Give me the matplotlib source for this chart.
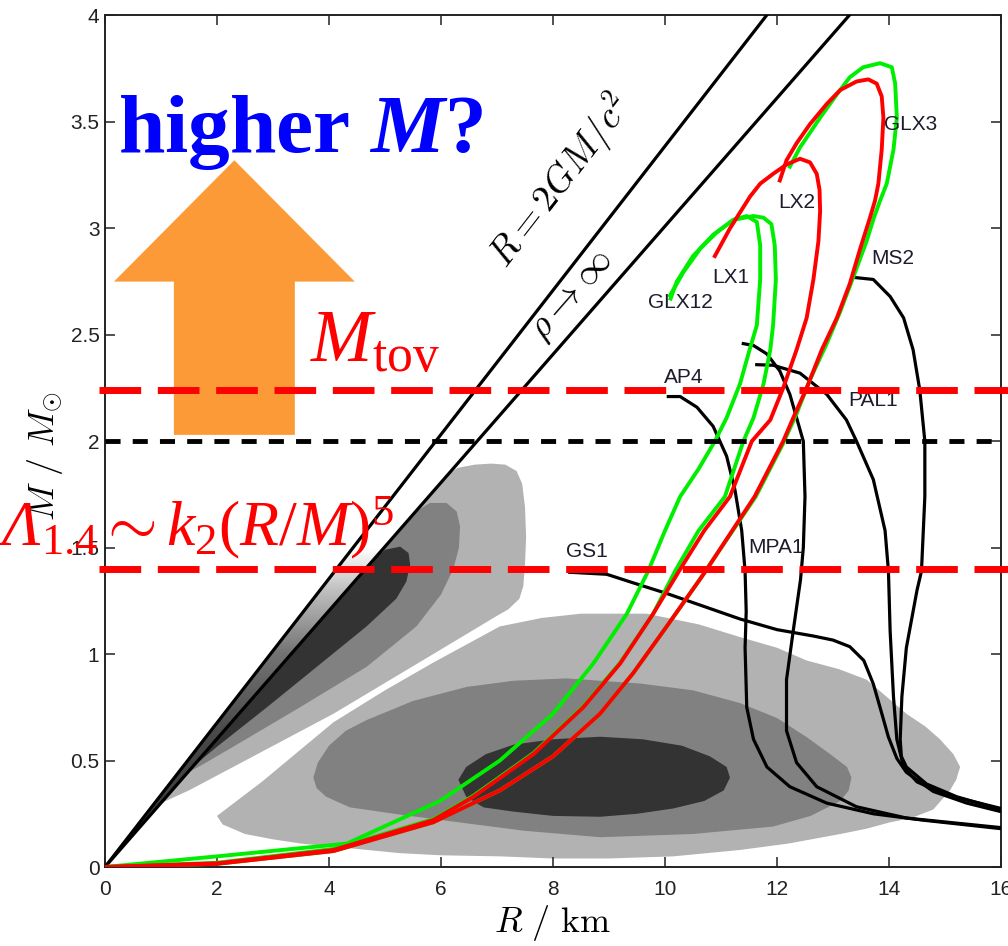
import numpy as np
import matplotlib
matplotlib.use("Agg")
import matplotlib.pyplot as plt
from matplotlib.patches import Polygon, FancyArrow

plt.rcParams['mathtext.fontset'] = 'custom'
plt.rcParams['mathtext.rm'] = 'Liberation Serif'
plt.rcParams['mathtext.it'] = 'Liberation Serif:italic'
plt.rcParams['mathtext.sf'] = 'Liberation Serif:italic'
plt.rcParams['mathtext.bf'] = 'Liberation Serif:bold'
plt.rcParams['mathtext.bfit'] = 'Liberation Serif:italic:bold'

W, H = 1008, 946
SANS = ['Liberation Sans Narrow', 'Liberation Sans', 'DejaVu Sans']

# ---------------- data ----------------
# limiting lines R = k * M  (km per solar mass)
limit_slopes = [2.953, 3.322]          # R = 2GM/c^2 , rho -> infinity
limit_M = [0.0, 5.5]

tov_mass = 2.24
lambda_mass = 1.40
obs_mass = 2.0

x_ticks = [0, 2, 4, 6, 8, 10, 12, 14, 16]
x_tick_labels = ['0', '2', '4', '6', '8', '10', '12', '14', '16']
y_ticks = [0, 0.5, 1, 1.5, 2, 2.5, 3, 3.5, 4]
y_tick_labels = ['0', '0.5', '1', '1.5', '2', '2.5', '3', '3.5', '4']

# probability contours (outlines)
low_light_R = [2.0, 2.8, 4.08, 5.0, 5.86, 7.05, 7.8, 8.5, 9.67, 10.6, 11.34, 12.0, 12.53, 13.1, 13.6,
               14.0, 14.31, 14.65, 14.91, 15.15, 15.27, 15.2, 15.09, 14.79, 14.4, 14.02, 13.6, 13.13,
               12.2, 11.34, 10.15, 9.0, 8.0, 7.05, 6.0, 5.27, 4.3, 3.5, 3.0, 2.5, 2.1]
low_light_M = [0.24, 0.40, 0.68, 0.83, 0.96, 1.13, 1.17, 1.19, 1.19, 1.14, 1.08, 1.03, 0.97, 0.93, 0.88,
               0.79, 0.72, 0.66, 0.60, 0.53, 0.47, 0.41, 0.36, 0.27, 0.23, 0.21, 0.18, 0.155,
               0.11, 0.08, 0.05, 0.04, 0.04, 0.05, 0.055, 0.065, 0.09, 0.11, 0.13, 0.155, 0.20]
low_mid_R = [3.72, 3.8, 4.0, 4.3, 4.67, 5.5, 6.46, 7.3, 8.24, 9.55, 10.5, 11.34, 12.0, 12.53, 12.95,
             13.25, 13.33, 13.28, 13.13, 12.6, 11.93, 10.5, 8.84, 7.5, 6.46, 5.3, 4.375, 3.95, 3.78]
low_mid_M = [0.42, 0.49, 0.57, 0.64, 0.69, 0.78, 0.846, 0.875, 0.886, 0.862, 0.83, 0.77, 0.70, 0.61, 0.53,
             0.47, 0.42, 0.36, 0.31, 0.24, 0.19, 0.155, 0.14, 0.17, 0.205, 0.245, 0.28, 0.33, 0.37]
low_dark_R = [6.31, 6.45, 6.8, 7.3, 8.0, 8.84, 9.6, 10.3, 10.8, 11.1, 11.16, 11.05, 10.7, 10.15, 9.5,
              8.84, 8.0, 7.3, 6.76, 6.45]
low_dark_M = [0.41, 0.47, 0.53, 0.575, 0.60, 0.612, 0.60, 0.57, 0.52, 0.47, 0.42, 0.36, 0.31, 0.275, 0.25,
              0.236, 0.24, 0.26, 0.28, 0.33]

up_light_R = [1.0, 6.1, 6.3, 6.6, 6.9, 7.15, 7.35, 7.45, 7.5, 7.52, 7.5, 7.47, 7.4, 7.2, 7.0, 5.86,
              4.08, 2.29, 1.5]
up_light_M = [0.30, 1.84, 1.875, 1.89, 1.895, 1.89, 1.86, 1.80, 1.69, 1.55, 1.42, 1.32, 1.26, 1.21, 1.18,
              1.0, 0.72, 0.47, 0.36]
up_mid_R = [1.46, 5.55, 5.8, 6.1, 6.28, 6.34, 6.32, 6.22, 6.0, 5.56, 4.67, 3.48, 2.29, 1.8]
up_mid_M = [0.44, 1.67, 1.71, 1.71, 1.67, 1.60, 1.50, 1.40, 1.28, 1.13, 0.94, 0.75, 0.565, 0.49]
up_dark_R = [1.52, 4.8, 5.0, 5.27, 5.42, 5.45, 5.38, 5.2, 4.67, 3.78, 2.89, 2.0, 1.7]
up_dark_M = [0.458, 1.445, 1.49, 1.505, 1.475, 1.42, 1.34, 1.26, 1.13, 0.94, 0.75, 0.565, 0.50]

# shading between the limiting lines: grey level at a few masses
strip_top = 1.5
strip_shade_M = [0.0, 0.6, 1.0, 1.3, 1.5]
strip_shade_grey = [0.22, 0.28, 0.45, 0.75, 1.0]

# mass-radius curves
gs1_R = [8.27, 8.96, 9.43, 10.03, 10.74, 11.34, 12.0, 12.65, 13.0, 13.3, 13.55, 13.72, 13.84, 13.99,
         14.14, 14.31, 14.79, 15.39, 16.0]
gs1_M = [1.385, 1.375, 1.335, 1.285, 1.22, 1.165, 1.115, 1.085, 1.066, 1.035, 0.97, 0.86, 0.75, 0.61,
         0.51, 0.445, 0.355, 0.30, 0.26]
ms2_R = [13.36, 13.72, 14.02, 14.26, 14.43, 14.55, 14.64, 14.64, 14.58, 14.5, 14.31, 14.23, 14.2, 14.22,
         14.31, 14.67, 15.21, 16.0]
ms2_M = [2.77, 2.76, 2.68, 2.58, 2.43, 2.24, 2.0, 1.74, 1.39, 1.30, 1.03, 0.80, 0.60, 0.52,
         0.47, 0.39, 0.33, 0.27]
pal1_R = [11.61, 11.93, 12.41, 12.89, 13.24, 13.42, 13.72, 13.93, 13.99, 14.02, 14.08, 14.14, 14.26,
          14.5, 15.0, 16.0]
pal1_M = [2.36, 2.357, 2.32, 2.22, 2.10, 2.0, 1.82, 1.58, 1.39, 1.11, 0.80, 0.60, 0.47,
          0.40, 0.34, 0.275]
ap4_R = [10.03, 10.27, 10.57, 10.86, 11.1, 11.25, 11.37, 11.43, 11.45, 11.43, 11.46, 11.58, 11.82,
         12.23, 12.89, 13.72, 14.61, 16.0]
ap4_M = [2.21, 2.21, 2.16, 2.07, 1.93, 1.77, 1.58, 1.39, 1.2, 1.03, 0.75, 0.60, 0.47,
         0.377, 0.30, 0.25, 0.22, 0.18]
mpa1_R = [11.37, 11.58, 11.82, 12.05, 12.23, 12.35, 12.47, 12.5, 12.47, 12.42, 12.29, 12.17, 12.17,
          12.35, 12.71, 13.42, 14.31, 16.0]
mpa1_M = [2.46, 2.45, 2.41, 2.33, 2.22, 2.11, 2.0, 1.74, 1.50, 1.35, 1.11, 0.88, 0.64,
          0.49, 0.377, 0.283, 0.23, 0.185]

greenA_R = [0, 2.0, 4.32, 5.98, 7.05, 8.0, 8.72, 9.32, 9.7, 10.0, 10.27, 10.6, 10.89, 11.1, 11.34, 11.5,
            11.64, 11.7, 11.7, 11.64, 11.46, 11.22, 10.92, 10.63, 10.33, 10.09]
greenA_M = [0, 0.05, 0.11, 0.31, 0.50, 0.72, 0.956, 1.19, 1.39, 1.58, 1.74, 1.87, 2.0, 2.11, 2.27, 2.42,
            2.545, 2.76, 2.92, 3.03, 3.058, 3.04, 2.98, 2.905, 2.795, 2.685]
greenB_R = [0, 2.0, 4.08, 5.86, 6.58, 7.65, 8.54, 9.2, 9.79, 10.18, 10.6, 11.07, 11.4, 11.58, 11.76, 11.88,
            11.93, 11.98, 11.96, 11.9, 11.76, 11.58, 11.22, 10.86, 10.5, 10.21, 10.1]
greenB_M = [0, 0.02, 0.085, 0.225, 0.335, 0.535, 0.755, 0.96, 1.19, 1.39, 1.58, 1.74, 2.0, 2.11, 2.27, 2.43,
            2.545, 2.76, 2.92, 3.02, 3.05, 3.058, 3.04, 2.97, 2.87, 2.75, 2.67]
greenC_R = [0, 2.0, 4.08, 5.86, 7.05, 8.0, 8.84, 9.43, 10.03, 10.62, 11.62, 12.11, 12.35, 12.59, 12.89,
            13.13, 13.36, 13.6, 13.73, 13.84, 13.96, 14.08, 14.14, 14.11, 14.05, 13.84, 13.54, 13.3,
            13.07, 12.77, 12.41, 12.23]
greenC_M = [0, 0.015, 0.075, 0.21, 0.36, 0.52, 0.72, 0.91, 1.13, 1.35, 1.74, 1.99, 2.13, 2.29, 2.46,
            2.61, 2.77, 2.94, 3.05, 3.13, 3.21, 3.37, 3.52, 3.68, 3.757, 3.776, 3.757, 3.71,
            3.63, 3.52, 3.38, 3.29]
redA_R = [0, 2.0, 4.08, 5.86, 6.58, 7.65, 8.54, 9.2, 9.79, 10.25, 10.7, 11.16, 11.55, 11.88, 12.11, 12.35,
          12.53, 12.65, 12.74, 12.77, 12.76, 12.71, 12.59, 12.41, 12.17, 11.93, 11.7, 11.52, 11.16, 10.89]
redA_M = [0, 0.017, 0.08, 0.22, 0.33, 0.53, 0.75, 0.956, 1.19, 1.39, 1.58, 1.74, 2.0, 2.10, 2.25, 2.43,
          2.58, 2.76, 2.94, 3.08, 3.18, 3.256, 3.31, 3.327, 3.30, 3.256, 3.21, 3.15, 3.0, 2.87]
redC_R = [0, 2.0, 4.08, 5.86, 7.05, 8.0, 8.84, 9.43, 10.03, 10.7, 11.6, 12.11, 12.29, 12.53, 12.8, 13.07,
          13.3, 13.48, 13.66, 13.75, 13.81, 13.87, 13.9, 13.87, 13.78, 13.63, 13.42, 13.13, 12.89, 12.59,
          12.35, 12.17, 12.05]
redC_M = [0, 0.015, 0.075, 0.21, 0.36, 0.52, 0.72, 0.91, 1.13, 1.38, 1.74, 2.0, 2.11, 2.25, 2.43, 2.58,
          2.74, 2.90, 3.05, 3.13, 3.21, 3.37, 3.52, 3.62, 3.68, 3.70, 3.69, 3.65, 3.585, 3.49,
          3.40, 3.32, 3.225]

curve_labels = ['GLX3', 'LX2', 'LX1', 'GLX12', 'MS2', 'AP4', 'PAL1', 'MPA1', 'GS1']
label_R = [14.39, 12.36, 11.18, 10.27, 14.07, 10.34, 13.72, 11.98, 8.6]
label_M = [3.49, 3.12, 2.77, 2.65, 2.86, 2.30, 2.19, 1.50, 1.48]

# orange arrow (data units)
arrow_x, arrow_y0, arrow_y1 = 2.31, 2.03, 3.32
arrow_shaft_w, arrow_head_w, arrow_head_len = 2.16, 4.30, 0.57

# ---------------- figure ----------------
fig = plt.figure(figsize=(W / 100, H / 100), dpi=100)
ax = fig.add_axes([105 / W, 1 - 867 / H, 896 / W, 851.5 / H])
ax.set_xlim(0, 16)
ax.set_ylim(0, 4)

# shaded strip between the two limiting lines
k0, k1 = limit_slopes
strip = Polygon([(0, 0), (k0 * strip_top, strip_top), (k1 * strip_top, strip_top)], closed=True,
                fc='none', ec='none', transform=ax.transData)
ax.add_patch(strip)
mm = np.linspace(0, strip_top, 200)
shade = np.interp(mm, strip_shade_M, strip_shade_grey)[:, None]
img = ax.imshow(shade, cmap='gray', vmin=0, vmax=1, origin='lower', aspect='auto',
                extent=[0, k1 * strip_top, 0, strip_top], zorder=1, interpolation='bilinear')
img.set_clip_path(strip)

LIGHT, MID, DARK = '#b2b2b2', '#818181', '#333333'
for R, M, c in [(low_light_R, low_light_M, LIGHT), (low_mid_R, low_mid_M, MID),
                (low_dark_R, low_dark_M, DARK), (up_light_R, up_light_M, LIGHT),
                (up_mid_R, up_mid_M, MID), (up_dark_R, up_dark_M, DARK)]:
    ax.add_patch(Polygon(np.column_stack([R, M]), closed=True, fc=c, ec='none', zorder=1.5))

ax.set_xlim(0, 16)
ax.set_ylim(0, 4)

for k in limit_slopes:
    ax.plot([k * m for m in limit_M], limit_M, color='black', lw=2.3, zorder=3)

ax.plot([0, 16], [obs_mass, obs_mass], color='black', lw=3.5, dashes=(3.1, 2.5), zorder=6)

for R, M in [(ap4_R, ap4_M), (mpa1_R, mpa1_M), (pal1_R, pal1_M), (ms2_R, ms2_M), (gs1_R, gs1_M)]:
    ax.plot(R, M, color='black', lw=2.3, zorder=4, solid_capstyle='butt', solid_joinstyle='round')
for R, M in [(greenA_R, greenA_M), (greenB_R, greenB_M), (greenC_R, greenC_M)]:
    ax.plot(R, M, color='#00ee00', lw=2.8, zorder=5, solid_joinstyle='round')
for R, M in [(redA_R, redA_M), (redC_R, redC_M)]:
    ax.plot(R, M, color='#ff0000', lw=2.8, zorder=5, solid_joinstyle='round')

for t, r, m in zip(curve_labels, label_R, label_M):
    ax.text(r, m, t, ha='center', va='center', fontsize=15, family=SANS, color='#1c1c2c', zorder=7)

ax.add_patch(FancyArrow(arrow_x, arrow_y0, 0, arrow_y1 - arrow_y0, width=arrow_shaft_w,
                        head_width=arrow_head_w, head_length=arrow_head_len,
                        length_includes_head=True, fc='#fd9a38', ec='none', zorder=6))

for m in [tov_mass, lambda_mass]:
    ax.plot([-0.107, 16.13], [m, m], color='#ff0000', lw=5, dashes=(6, 2.4),
            clip_on=False, zorder=8)

# axes styling
ax.set_xticks(x_ticks)
ax.set_xticklabels(x_tick_labels)
ax.set_yticks(y_ticks)
ax.set_yticklabels(y_tick_labels)
ax.tick_params(direction='in', length=7, width=1.1, top=True, right=True, labelsize=15,
               colors='#222222')
ax.tick_params(axis='x', pad=9)
ax.tick_params(axis='y', pad=4)
for lab in ax.get_xticklabels() + ax.get_yticklabels():
    lab.set_family(SANS)
for s in ax.spines.values():
    s.set_linewidth(1.4)
    s.set_color('#222222')

def fx(px):
    return px / W

def fy(py):
    return 1 - py / H

# rotated annotations along the limit lines
def line_angle(k):
    p0 = ax.transData.transform((0, 0))
    p1 = ax.transData.transform((k * 1.0, 1.0))
    return np.degrees(np.arctan2(p1[1] - p0[1], p1[0] - p0[0]))

fig.text(fx(561), fy(181), r'$R = 2GM/c^2$', rotation=line_angle(limit_slopes[0]),
         ha='center', va='center', fontsize=27, math_fontfamily='cm', rotation_mode='anchor')
fig.text(fx(572), fy(296), r'$\rho \rightarrow \infty$', rotation=line_angle(limit_slopes[1]),
         ha='center', va='center', fontsize=27, math_fontfamily='cm', rotation_mode='anchor')

# axis labels
fig.text(fx(553), fy(923), r'$R\ /\ \mathrm{km}$', ha='center', va='center', fontsize=26,
         math_fontfamily='cm')
fig.text(fx(45), fy(456), r'$M\ /\ M_{\odot}$', ha='center', va='center', fontsize=26,
         rotation=90, math_fontfamily='cm')

# overlay annotations
fig.text(fx(118), fy(152), r'higher $\mathbfit{M}$?', ha='left', va='baseline', fontsize=60,
         family='Liberation Serif', fontweight='bold', color='#0000ff', math_fontfamily='custom',
         zorder=10)
fig.text(fx(310), fy(362), r'$M_{\mathrm{tov}}$', ha='left', va='baseline', fontsize=53,
         family='Liberation Serif', color='#ff0000', math_fontfamily='custom', zorder=10)
fig.text(fx(-3), fy(545), r'$\mathsf{\Lambda}_{1.4} \sim k_2(R/M)^5$', ha='left', va='baseline',
         fontsize=46, family='Liberation Serif', color='#ff0000', math_fontfamily='custom',
         zorder=10)

fig.savefig('out.png', dpi=100)
